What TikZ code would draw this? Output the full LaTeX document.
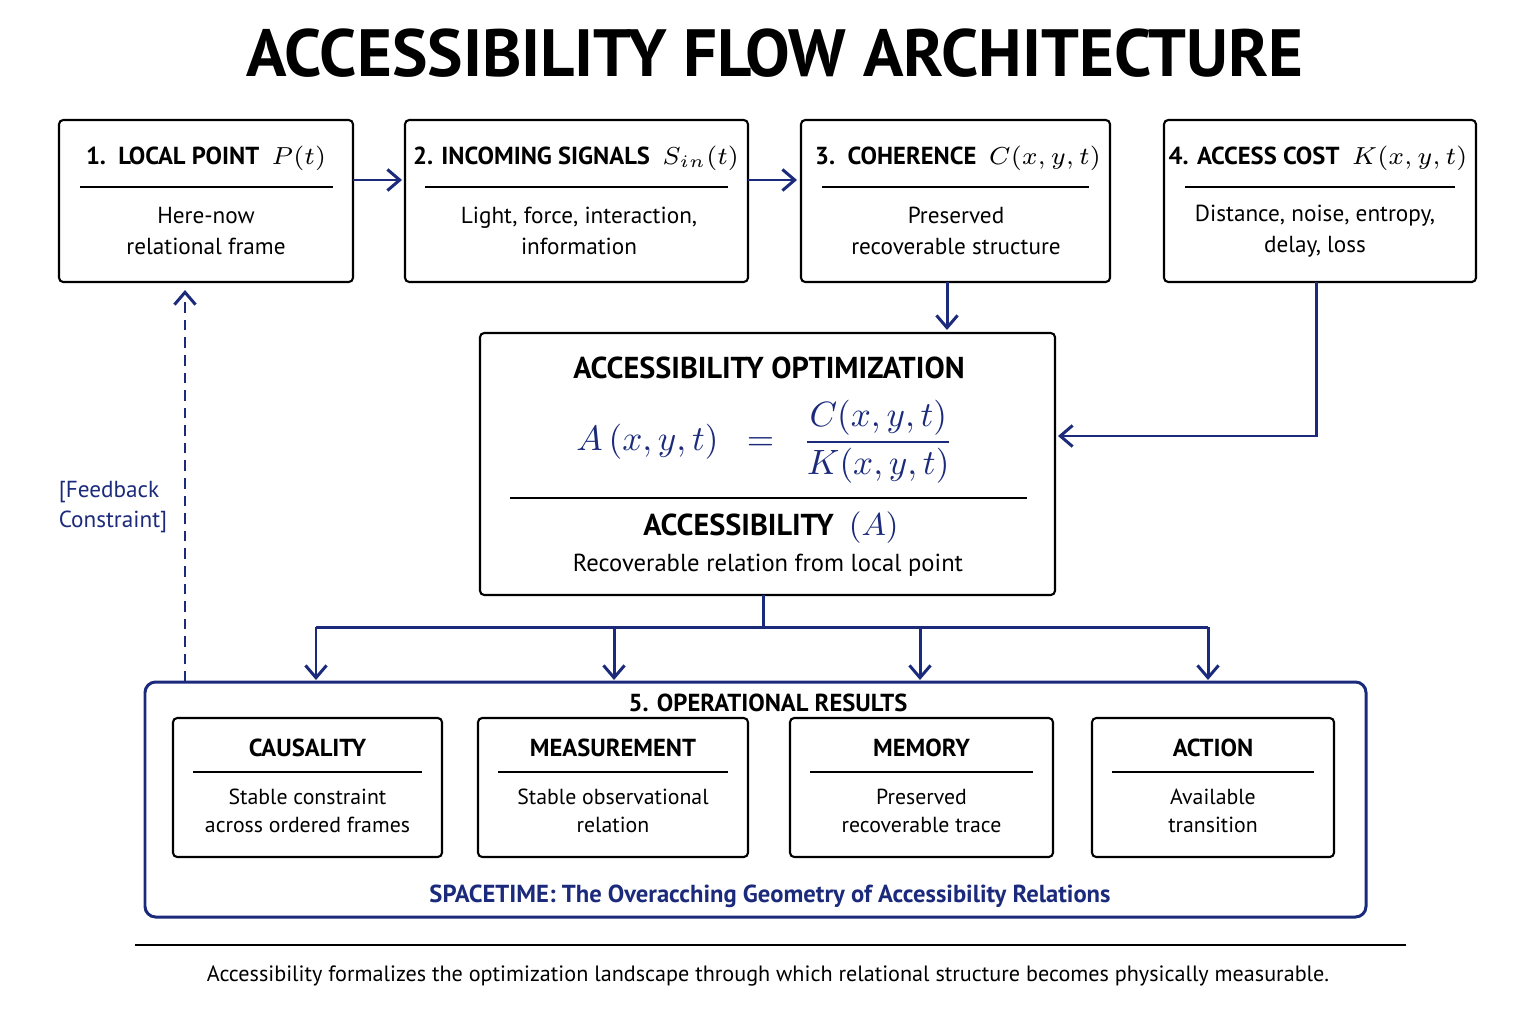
\documentclass[tikz,border=0pt]{standalone}
\usepackage{amsmath}
\usepackage{fontspec}
\setmainfont{PT Sans}
\usetikzlibrary{arrows.meta,positioning}
\definecolor{navy}{HTML}{1B2A7A}
\tikzset{>={Straight Barb[length=3.5pt,width=6pt]},
	box/.style={draw,line width=0.6pt,rounded corners=1.2pt},
	flow/.style={->,draw=navy,line width=0.85pt},
	head/.style={font=\bfseries\fontsize{7}{8}\selectfont},
	body/.style={align=center,font=\fontsize{6.6}{9}\selectfont}}
\begin{document}
\begin{tikzpicture}[x=0.01cm,y=-0.01cm]
	\useasboundingbox (0,0) rectangle (1536,1024);
	\node[font=\bfseries\fontsize{19}{22}\selectfont] (title) at (775,53) {ACCESSIBILITY FLOW ARCHITECTURE};
	% top row
	\draw[box] (59,120) rectangle (353,282);
	\node[head] (p1) at (206,158) {1.\ \ LOCAL POINT\ \ $P(t)$};
	\node[body] (t1) at (206,231) {Here-now\\relational frame};
	\draw[line width=0.4pt] (80,187) -- (333,187);
	\draw[box] (405,120) rectangle (748,282);
	\node[head] (p2) at (576,158) {2. INCOMING SIGNALS\ \ $S_{in}(t)$};
	\node[body] (t2) at (579,231) {Light, force, interaction,\\information};
	\draw[line width=0.4pt] (425,187) -- (728,187);
	\draw[box] (801,120) rectangle (1110,282);
	\node[head] (p3) at (958,158) {3.\ \ COHERENCE\ \ $C(x,y,t)$};
	\node[body] (t3) at (956,231) {Preserved\\recoverable structure};
	\draw[line width=0.4pt] (822,187) -- (1089,187);
	\draw[box] (1164,120) rectangle (1476,282);
	\node[head] (p4) at (1318,158) {4. ACCESS COST\ \ $K(x,y,t)$};
	\node[body] (t4) at (1315,231) {Distance, noise, entropy,\\delay, loss};
	\draw[line width=0.4pt] (1185,187) -- (1455,187);
	\coordinate (a1) at (353,180); \coordinate (a2) at (402,180);
	\coordinate (b1) at (748,180); \coordinate (b2) at (797,180);
	\draw[flow] (a1) -- (a2);
	\draw[flow] (b1) -- (b2);
	% optimization
	\draw[box] (480,333) rectangle (1055,595);
	\node[font=\bfseries\fontsize{8.6}{10}\selectfont] (opt) at (769,368) {ACCESSIBILITY OPTIMIZATION};
	\node[text=navy,font=\fontsize{10}{12}\selectfont] (eq) at (765,442) {$A\,(x,y,t)\ \ =\ \ \dfrac{C(x,y,t)}{K(x,y,t)}$};
	\draw[line width=0.4pt] (510,498) -- (1027,498);
	\node[font=\bfseries\fontsize{8.6}{10}\selectfont] (acc) at (771,528) {ACCESSIBILITY\ \ \textcolor{navy}{\mdseries$(A)$}};
	\node[body,font=\fontsize{7}{9}\selectfont] (rel) at (768,565) {Recoverable relation from local point};
	\draw[flow] (947,282) -- (947,330);
	\draw[flow] (1316,282) -- (1316,436) -- (1058,436);
	% results
	\draw[box,draw=navy,line width=0.85pt,rounded corners=3pt] (145,682) rectangle (1366,917);
	\node[head] (res) at (768,703) {5. OPERATIONAL RESULTS};
	\draw[navy,line width=0.85pt] (763,595) -- (763,627);
	\draw[navy,line width=0.85pt] (316,627) -- (1208,627);
	\foreach \l/\r/\h/\t [count=\i] in {173/442/CAUSALITY/{Stable constraint\\across ordered frames},
		478/748/MEASUREMENT/{Stable observational\\relation},
		790/1053/MEMORY/{Preserved\\recoverable trace},
		1092/1334/ACTION/{Available\\transition}}{
		\draw[box] (\l,718) rectangle (\r,857);
		\node[head] (r\i) at ({(\l+\r)/2},748) {\h};
		\draw[line width=0.4pt] (\l+20,772) -- (\r-20,772);
		\node[body,font=\fontsize{6.2}{8}\selectfont] (s\i) at ({(\l+\r)/2},811) {\t};
	}
	\foreach \x in {316,614,920,1208} \draw[flow] (\x,627) -- (\x,680);
	\node[head,text=navy] (st) at (770,896) {SPACETIME:\ The Overacching Geometry of Accessibility Relations};
	% feedback
	\coordinate (fb) at (185,682);
	\draw[flow,dash pattern=on 3pt off 2pt] (fb) -- (185,290);
	\node[text=navy,align=left,font=\fontsize{6.6}{8.5}\selectfont] (fbl) at (113,507) {[Feedback\\Constraint]};
	% footer
	\draw[line width=0.7pt] (135,945) -- (1406,945);
	\node[font=\fontsize{6.3}{8}\selectfont] (foot) at (768,976) {Accessibility formalizes the optimization landscape through which relational structure becomes physically measurable.};
\end{tikzpicture}
\end{document}
